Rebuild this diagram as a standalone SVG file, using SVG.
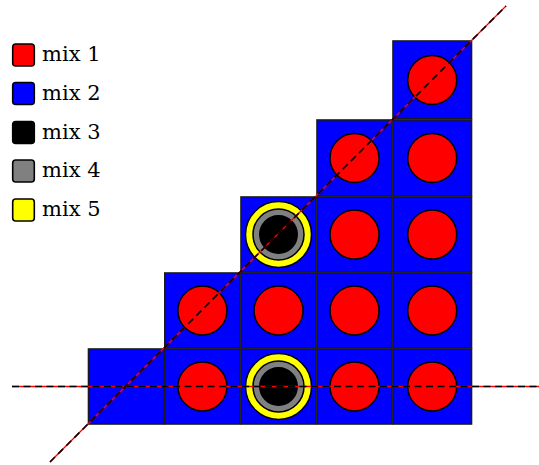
<svg xmlns="http://www.w3.org/2000/svg" width="539" height="465" viewBox="0 0 539 465">
<style>
.cell{fill:#0000ff;stroke:#1a1a1a;stroke-width:1.6}
.red{fill:#ff0000;stroke:#000;stroke-width:1.5}
.yel{fill:#ffff00;stroke:#000;stroke-width:1.5}
.gry{fill:#808080;stroke:#000;stroke-width:1.5}
.blk{fill:#000;stroke:#000;stroke-width:1.5}
.leg{stroke:#000;stroke-width:1.6}
.ln-red{stroke:#ff0000;stroke-width:1.3;fill:none}
.ln-blk{stroke:#000;stroke-width:1.6;fill:none;stroke-dasharray:7 4.5}
</style>
<rect width="539" height="465" fill="#fff"/>
<g id="legend" font-family="'DejaVu Serif', 'Liberation Serif', serif" font-size="21" fill="#000">
<g id="leg1"><rect class="leg" x="12.7" y="44" width="21.6" height="22" rx="3" fill="#ff0000"/><text x="42" y="61">mix 1</text></g>
<g id="leg2"><rect class="leg" x="12.7" y="82.5" width="21.6" height="22" rx="3" fill="#0000ff"/><text x="42" y="99.5">mix 2</text></g>
<g id="leg3"><rect class="leg" x="12.7" y="121.5" width="21.6" height="22" rx="3" fill="#000"/><text x="42" y="138.5">mix 3</text></g>
<g id="leg4"><rect class="leg" x="12.7" y="160" width="21.6" height="22" rx="3" fill="#808080"/><text x="42" y="177">mix 4</text></g>
<g id="leg5"><rect class="leg" x="12.7" y="199" width="21.6" height="22" rx="3" fill="#ffff00"/><text x="42" y="216">mix 5</text></g>
</g>
<g id="r0c4"><rect class="cell" x="393" y="41" width="78.5" height="77.8"/><circle class="red" cx="432.2" cy="80" r="24.5"/></g>
<g id="r1c3"><rect class="cell" x="317" y="120" width="75" height="76"/><circle class="red" cx="354.5" cy="158" r="24.5"/></g>
<g id="r1c4"><rect class="cell" x="393" y="120" width="78.5" height="76"/><circle class="red" cx="432.2" cy="158" r="24.5"/></g>
<g id="r2c2"><rect class="cell" x="241" y="197" width="75" height="75"/><circle class="yel" cx="278.5" cy="234.5" r="33"/><circle class="gry" cx="278.5" cy="234.5" r="25.5"/><circle class="blk" cx="278.5" cy="234.5" r="18.7"/></g>
<g id="r2c3"><rect class="cell" x="317" y="197" width="75" height="75"/><circle class="red" cx="354.5" cy="234.5" r="24.5"/></g>
<g id="r2c4"><rect class="cell" x="393" y="197" width="78.5" height="75"/><circle class="red" cx="432.2" cy="234.5" r="24.5"/></g>
<g id="r3c1"><rect class="cell" x="164.8" y="273" width="75.2" height="75"/><circle class="red" cx="202.4" cy="310.5" r="24.5"/></g>
<g id="r3c2"><rect class="cell" x="241" y="273" width="75" height="75"/><circle class="red" cx="278.5" cy="310.5" r="24.5"/></g>
<g id="r3c3"><rect class="cell" x="317" y="273" width="75" height="75"/><circle class="red" cx="354.5" cy="310.5" r="24.5"/></g>
<g id="r3c4"><rect class="cell" x="393" y="273" width="78.5" height="75"/><circle class="red" cx="432.2" cy="310.5" r="24.5"/></g>
<g id="r4c0"><rect class="cell" x="88.5" y="349" width="75.3" height="75"/></g>
<g id="r4c1"><rect class="cell" x="164.8" y="349" width="75.2" height="75"/><circle class="red" cx="202.4" cy="386.5" r="24.5"/></g>
<g id="r4c2"><rect class="cell" x="241" y="349" width="75" height="75"/><circle class="yel" cx="278.5" cy="386.5" r="33"/><circle class="gry" cx="278.5" cy="386.5" r="25.5"/><circle class="blk" cx="278.5" cy="386.5" r="18.7"/></g>
<g id="r4c3"><rect class="cell" x="317" y="349" width="75" height="75"/><circle class="red" cx="354.5" cy="386.5" r="24.5"/></g>
<g id="r4c4"><rect class="cell" x="393" y="349" width="78.5" height="75"/><circle class="red" cx="432.2" cy="386.5" r="24.5"/></g>
<g id="connectors">
<line class="ln-red" x1="12" y1="386.5" x2="539" y2="386.5"/>
<line class="ln-blk" x1="12" y1="386.5" x2="539" y2="386.5"/>
<line class="ln-red" x1="50" y1="462" x2="506" y2="6"/>
<line class="ln-blk" x1="50" y1="462" x2="506" y2="6"/>
</g>
</svg>
